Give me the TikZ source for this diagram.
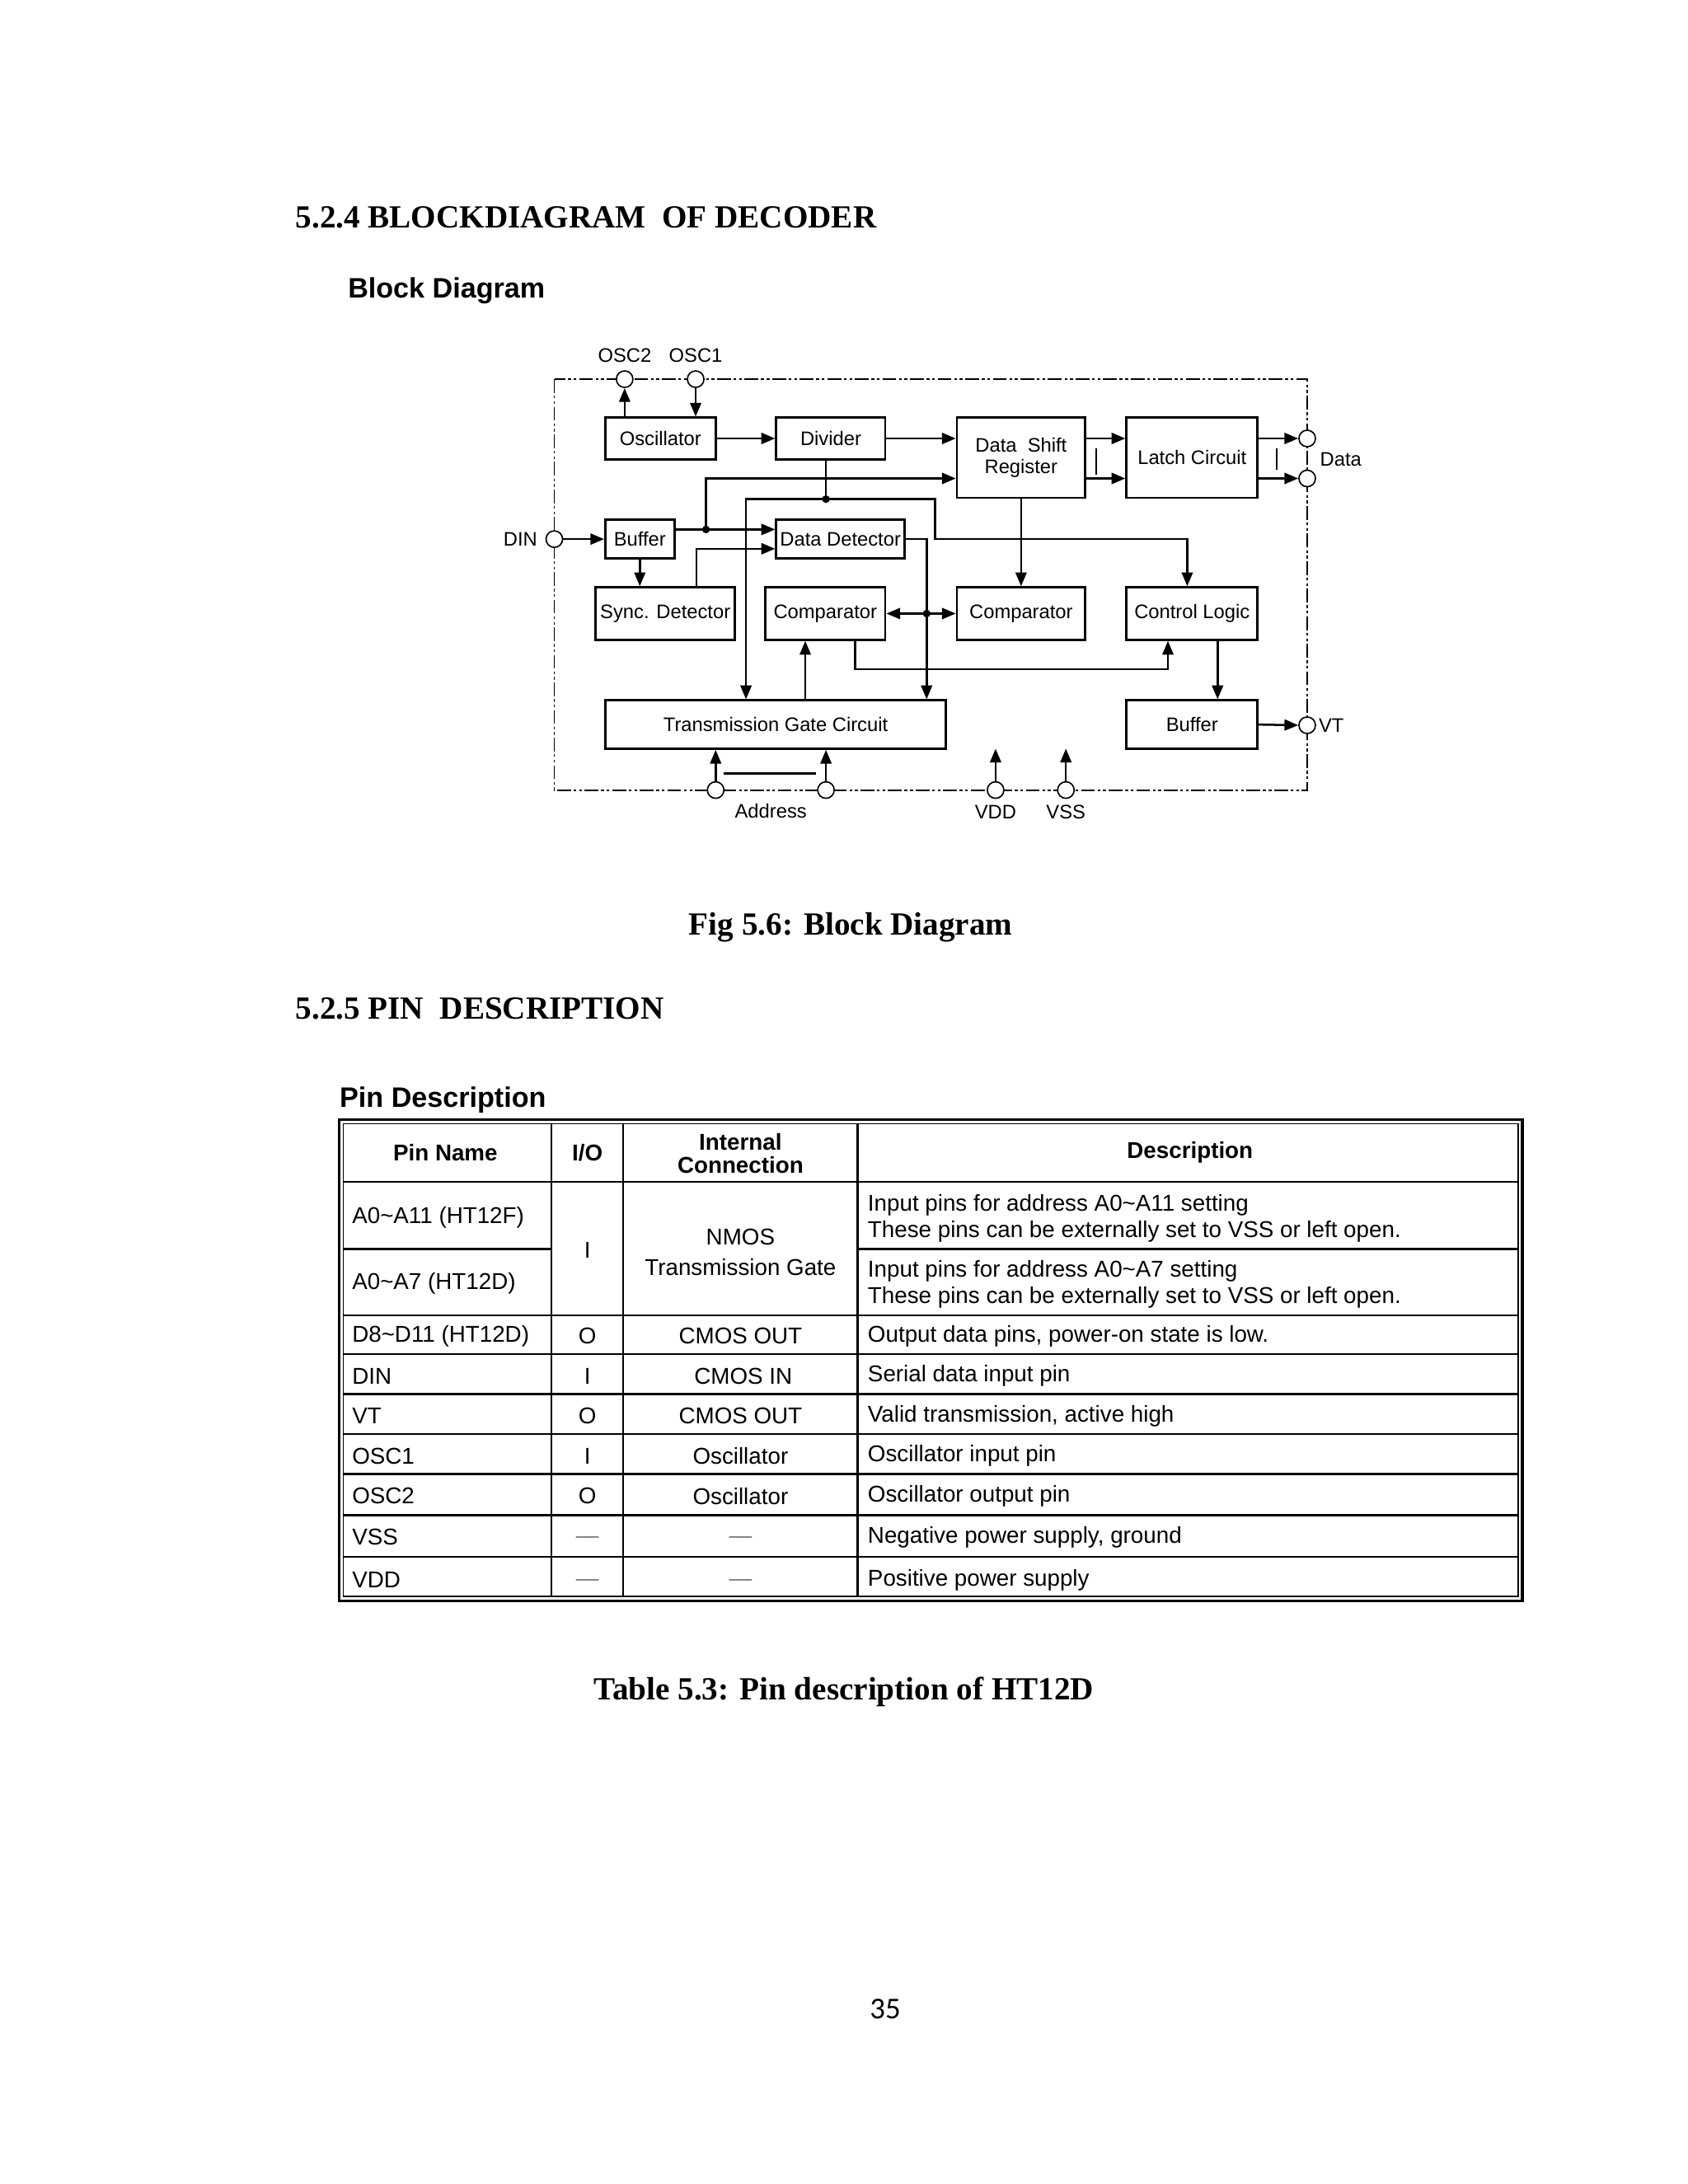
\documentclass[tikz,border=0pt]{standalone}
\usepackage{graphicx}
\usepackage{fontspec}
\setmainfont{Liberation Serif}
\newfontfamily\arialf{Liberation Sans}
\newfontfamily\calib{Carlito}
\usetikzlibrary{arrows.meta,calc}
\begin{document}
\begin{tikzpicture}[x=0.5pt,y=-0.5pt,
  blk/.style={draw,line width=0.85pt,inner sep=0pt,font=\arialf\fontsize{7.1}{8}\selectfont,align=center},
  arr/.style={line width=0.75pt,-{Triangle[length=5pt,width=4pt]}},
  wire/.style={line width=0.75pt},
  pinc/.style={circle,draw,line width=0.5pt,fill=white,minimum size=6pt,inner sep=0pt},
  lbl/.style={font=\arialf\fontsize{7.1}{8.5}\selectfont,inner sep=0pt},
  jdot/.style={circle,fill,minimum size=2.8pt,inner sep=0pt},
  frameln/.style={line width=0.55pt,dash pattern=on 5pt off 1pt on 1pt off 1pt on 1pt off 1pt},
  hd/.style={font=\fontsize{11.7}{14}\bfseries\selectfont,inner sep=0pt},
  sub/.style={font=\arialf\bfseries\fontsize{10.2}{12}\selectfont,inner sep=0pt},
  tcell/.style={font=\arialf\fontsize{8.3}{10}\selectfont,inner sep=0pt},
  thead/.style={font=\arialf\bfseries\fontsize{8.3}{8.6}\selectfont,inner sep=0pt,align=center},
  tgrid/.style={line width=0.75pt},
]
\fill[white] (0,0) rectangle (1224,1584);
\useasboundingbox (0,0) rectangle (1224,1584);

% ---------- headings ----------
\node[hd,anchor=base west] (h1) at (214,165) {5.2.4 BLOCKDIAGRAM\ \ OF DECODER};
\node[sub,anchor=base west] (h2) at (252,216) {Block Diagram};

% ---------- block diagram ----------
\draw[frameln] (402,275) rectangle (948,573);

\node[blk,minimum width=40pt,minimum height=15pt] (osc) at (479,318) {Oscillator};
\node[blk,minimum width=39.5pt,minimum height=15pt] (div) at (602.5,318) {Divider};
\node[blk,minimum width=46.5pt,minimum height=29pt] (dsr) at (740.5,332) {Data\ \ Shift\\Register};
\node[blk,minimum width=47.5pt,minimum height=29pt] (latch) at (864.5,332) {Latch Circuit};
\node[blk,minimum width=25pt,minimum height=14pt] (buf1) at (464,391) {Buffer};
\node[blk,minimum width=46.5pt,minimum height=14pt] (dd) at (609.5,391) {Data Detector};
\node[blk,minimum width=50.5pt,minimum height=19pt] (sync) at (482.5,445) {Sync. Detector};
\node[blk,minimum width=43.5pt,minimum height=19pt] (cmp1) at (598.5,445) {Comparator};
\node[blk,minimum width=46.5pt,minimum height=19pt] (cmp2) at (740.5,445) {Comparator};
\node[blk,minimum width=47.5pt,minimum height=19pt] (ctrl) at (864.5,445) {Control Logic};
\node[blk,minimum width=123.5pt,minimum height=17.5pt] (tg) at (562.5,525.5) {Transmission Gate Circuit};
\node[blk,minimum width=47.5pt,minimum height=17.5pt] (buf2) at (864.5,525.5) {Buffer};

\node[pinc] (posc2) at (453,275) {};
\node[pinc] (posc1) at (504.5,275) {};
\node[pinc] (pdin) at (402,391) {};
\node[pinc] (pd1) at (948,318) {};
\node[pinc] (pd2) at (948,347) {};
\node[pinc] (pvt) at (948,526) {};
\node[pinc] (pa1) at (519,573) {};
\node[pinc] (pa2) at (599,573) {};
\node[pinc] (pvdd) at (722,573) {};
\node[pinc] (pvss) at (773,573) {};

\node[lbl] (losc2) at (453,258) {OSC2};
\node[lbl] (losc1) at (504.5,258) {OSC1};
\node[lbl,anchor=east] (ldin) at (390,391) {DIN};
\node[lbl,anchor=west] (ldata) at (957,333) {Data};
\node[lbl,anchor=west] (lvt) at (956,526) {VT};
\node[lbl] (laddr) at (559,588) {Address};
\node[lbl] (lvdd) at (722,589) {VDD};
\node[lbl] (lvss) at (773,589) {VSS};

% helper coordinates
\coordinate (jB) at (512,384);
\coordinate (jD) at (599,362);
\coordinate (cS) at (505,398);
\coordinate (cL) at (541,362);
\coordinate (cR1) at (678,362);
\coordinate (cR2) at (678,391);
\coordinate (cR3) at (861,391);
\coordinate (jC) at (672,445);
\coordinate (cDD) at (672,391);
\coordinate (r1) at (620,485.5);
\coordinate (r2) at (847,485.5);
\coordinate (cT) at (584,508);
\coordinate (cB) at (883,464);
\coordinate (vddend) at (722,543);
\coordinate (vssend) at (773,543);

% oscillator pins
\draw[arr] (osc.north -| posc2) -- (posc2.south);
\draw[arr] (posc1.south) -- (osc.north -| posc1);
\draw[arr] (osc.east) -- (div.west);
\draw[arr] (div.east) -- (div.east -| dsr.west);
% shift register -> latch -> data
\draw[arr] (dsr.east |- pd1) -- (latch.west |- pd1);
\draw[arr] (dsr.east |- pd2) -- (latch.west |- pd2);
\draw[arr] (latch.east |- pd1) -- (pd1.west);
\draw[arr] (latch.east |- pd2) -- (pd2.west);
\draw[wire] (795,325) -- (795,344);
\draw[wire] (926,325) -- (926,341);
% DIN and buffer
\draw[arr] (pdin.east) -- (buf1.west);
\draw[wire] (buf1.east |- jB) -- (jB);
\draw[arr] (jB) -- (dd.west |- jB);
\draw[arr] (jB) |- (dsr.west |- pd2);
\node[jdot] (djB) at (jB) {};
\draw[arr] (buf1.south) -- (buf1.south |- sync.north);
\draw[arr] (sync.north -| cS) -- (cS) -- (cS -| dd.west);
% divider tap
\draw[wire] (jD |- div.south) -- (jD);
\node[jdot] (djD) at (jD) {};
\draw[arr] (jD) -- (cL) -- (tg.north -| cL);
\draw[arr] (jD) -- (cR1) -- (cR2) -- (cR3) -- (ctrl.north -| cR3);
% data detector out
\draw[arr] (dd.east) -- (cDD) -- (tg.north -| cDD);
\node[jdot] (djC) at (jC) {};
\draw[arr] (jC) -- (cmp1.east |- jC);
\draw[arr] (jC) -- (cmp2.west |- jC);
% comparators, control
\draw[arr] (dsr.south) -- (cmp2.north);
\draw[arr] (cmp1.south -| r1) -- (r1) -- (r2) -- (ctrl.south -| r2);
\draw[arr] (cT) -- (cmp1.south -| cT);
\draw[arr] (cB) -- (buf2.north -| cB);
\draw[arr] (buf2.east) -- (pvt.west);
% address and supplies
\draw[arr] (pa1.north) -- (tg.south -| pa1);
\draw[arr] (pa2.north) -- (tg.south -| pa2);
\draw[wire] (525,561) -- (592,561);
\draw[arr] (pvdd.north) -- (vddend);
\draw[arr] (pvss.north) -- (vssend);

\node[hd,anchor=base] (cap1) at (617,678) {Fig 5.6: Block Diagram};

% ---------- pin description ----------
\node[hd,anchor=base west] (h3) at (214,739) {5.2.5 PIN\ \ DESCRIPTION};
\node[sub,anchor=base west] (h4) at (246,803) {Pin Description};

\draw[line width=1.1pt] (246,812) rectangle (1104,1161);
\draw[line width=0.5pt] (249,815) rectangle (1101,1158);
\foreach \xx in {400,452,622} \draw[tgrid] (\xx,815) -- (\xx,1158);
\foreach \yy in {857,954,982,1011,1040,1069,1099,1129} \draw[tgrid] (249,\yy) -- (1101,\yy);
\draw[tgrid] (249,906) -- (400,906);
\draw[tgrid] (622,906) -- (1101,906);

\node[thead] (th1) at (323,836) {Pin Name};
\node[thead] (th2) at (426,836) {I/O};
\node[thead] (th3) at (537,836.5) {Internal\\Connection};
\node[thead] (th4) at (863,836) {Description};

\node[tcell,anchor=west] (a1) at (255,883) {A0\textasciitilde A11 (HT12F)};
\node[tcell,anchor=west] (a2) at (255,931) {A0\textasciitilde A7 (HT12D)};
\node[tcell,anchor=west] (a3) at (255,969) {D8\textasciitilde D11 (HT12D)};
\node[tcell,anchor=west] (a4) at (255,998) {DIN};
\node[tcell,anchor=west] (a5) at (255,1027) {VT};
\node[tcell,anchor=west] (a6) at (255,1056) {OSC1};
\node[tcell,anchor=west] (a7) at (255,1085) {OSC2};
\node[tcell,anchor=west] (a8) at (255,1115) {VSS};
\node[tcell,anchor=west] (a9) at (255,1146) {VDD};

\node[tcell] (b12) at (426,907) {I};
\node[tcell] (b3) at (426,969) {O};
\node[tcell] (b4) at (426,998) {I};
\node[tcell] (b5) at (426,1027) {O};
\node[tcell] (b6) at (426,1056) {I};
\node[tcell] (b7) at (426,1085) {O};
\node[tcell,text=gray] (b8) at (426,1117) {\textemdash};
\node[tcell,text=gray] (b9) at (426,1148) {\textemdash};

\node[tcell,align=center] (c12) at (537,908) {NMOS\\[1pt]Transmission Gate};
\node[tcell] (c3) at (537,969) {CMOS OUT};
\node[tcell] (c4) at (539,998) {CMOS IN};
\node[tcell] (c5) at (537,1027) {CMOS OUT};
\node[tcell] (c6) at (537,1056) {Oscillator};
\node[tcell] (c7) at (537,1085) {Oscillator};
\node[tcell,text=gray] (c8) at (537,1117) {\textemdash};
\node[tcell,text=gray] (c9) at (537,1148) {\textemdash};

\node[tcell,anchor=west] (d1a) at (629,874) {Input pins for address A0\textasciitilde A11 setting};
\node[tcell,anchor=west] (d1b) at (629,893) {These pins can be externally set to VSS or left open.};
\node[tcell,anchor=west] (d2a) at (629,922) {Input pins for address A0\textasciitilde A7 setting};
\node[tcell,anchor=west] (d2b) at (629,941) {These pins can be externally set to VSS or left open.};
\node[tcell,anchor=west] (d3) at (629,969) {Output data pins, power-on state is low.};
\node[tcell,anchor=west] (d4) at (629,998) {Serial data input pin};
\node[tcell,anchor=west] (d5) at (629,1027) {Valid transmission, active high};
\node[tcell,anchor=west] (d6) at (629,1056) {Oscillator input pin};
\node[tcell,anchor=west] (d7) at (629,1085) {Oscillator output pin};
\node[tcell,anchor=west] (d8) at (629,1115) {Negative power supply, ground};
\node[tcell,anchor=west] (d9) at (629,1146) {Positive power supply};

\node[hd,anchor=base] (cap2) at (612,1233) {Table 5.3: Pin description of HT12D};

\node[font=\calib\fontsize{11}{13}\selectfont,inner sep=0pt] (pg) at (642,1457) {35};
\end{tikzpicture}
\end{document}
